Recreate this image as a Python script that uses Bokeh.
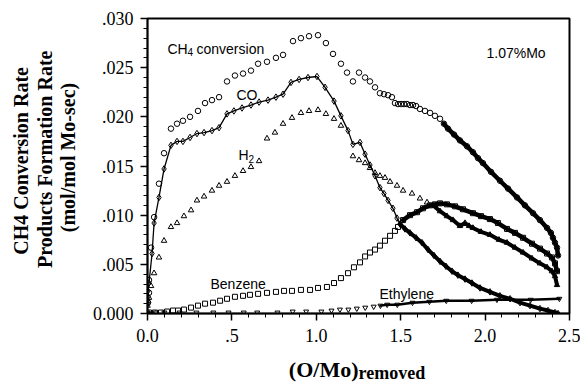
import numpy as np
from bokeh.plotting import figure
from bokeh.layouts import row, column
from bokeh.models import Range1d, FixedTicker, CustomJSTickFormatter, Label
from bokeh.core.properties import value
from bokeh.embed import file_html
from bokeh.resources import INLINE

# ---- data: (O/Mo) removed vs. rate (mol/mol Mo-sec) ----
ch4_x = [0.003, 0.009, 0.009, 0.021, 0.039, 0.068, 0.098, 0.139, 0.175, 0.210, 0.252, 0.299,
         0.341, 0.382, 0.424, 0.471, 0.518, 0.566, 0.613, 0.655, 0.708, 0.761, 0.803, 0.862,
         0.909, 0.957, 1.010, 1.057, 1.099, 1.146, 1.182, 1.217, 1.253, 1.289, 1.318, 1.348,
         1.377, 1.401, 1.425, 1.448, 1.466, 1.484, 1.502, 1.520, 1.537, 1.555, 1.573, 1.591,
         1.614, 1.644, 1.674, 1.703, 1.733, 1.756, 1.780, 1.816, 1.851, 1.893, 1.928, 1.958,
         1.987, 2.035, 2.088, 2.136, 2.189, 2.236, 2.284, 2.325, 2.367, 2.390, 2.402, 2.414,
         2.426, 2.432]
ch4_y = [0.0011, 0.0021, 0.0034, 0.0067, 0.0098, 0.0132, 0.0163, 0.0188, 0.0193, 0.0196, 0.0200, 0.0206,
         0.0214, 0.0217, 0.0220, 0.0236, 0.0242, 0.0244, 0.0247, 0.0254, 0.0256, 0.0260, 0.0263, 0.0277,
         0.0280, 0.0282, 0.0283, 0.0275, 0.0264, 0.0254, 0.0245, 0.0236, 0.0245, 0.0240, 0.0236, 0.0230,
         0.0224, 0.0223, 0.0222, 0.0220, 0.0214, 0.0213, 0.0213, 0.0213, 0.0213, 0.0212, 0.0212, 0.0211,
         0.0208, 0.0206, 0.0204, 0.0201, 0.0198, 0.0193, 0.0188, 0.0182, 0.0176, 0.0170, 0.0164, 0.0158,
         0.0153, 0.0144, 0.0135, 0.0127, 0.0118, 0.0110, 0.0102, 0.0095, 0.0087, 0.0082, 0.0077, 0.0072,
         0.0067, 0.0059]

co_x = [0.000, 0.003, 0.003, 0.009, 0.027, 0.039, 0.068, 0.098, 0.139, 0.175, 0.210, 0.252,
        0.293, 0.335, 0.382, 0.424, 0.471, 0.512, 0.560, 0.613, 0.661, 0.714, 0.761, 0.803,
        0.850, 0.898, 0.951, 1.004, 1.052, 1.105, 1.146, 1.188, 1.217, 1.259, 1.289, 1.318,
        1.348, 1.377, 1.401, 1.425, 1.454, 1.478, 1.496, 1.525, 1.555, 1.591, 1.626, 1.662,
        1.697, 1.733, 1.768, 1.804, 1.839, 1.881, 1.922, 1.970, 2.029, 2.088, 2.148, 2.207,
        2.266, 2.325, 2.373, 2.414, 2.432]
co_y = [0.0010, 0.0017, 0.0023, 0.0031, 0.0061, 0.0092, 0.0118, 0.0147, 0.0171, 0.0175, 0.0175, 0.0179,
        0.0183, 0.0184, 0.0186, 0.0189, 0.0203, 0.0206, 0.0209, 0.0212, 0.0215, 0.0217, 0.0220, 0.0223,
        0.0235, 0.0238, 0.0240, 0.0241, 0.0230, 0.0216, 0.0201, 0.0186, 0.0172, 0.0174, 0.0162, 0.0151,
        0.0140, 0.0128, 0.0122, 0.0115, 0.0107, 0.0097, 0.0091, 0.0086, 0.0082, 0.0077, 0.0072, 0.0065,
        0.0059, 0.0053, 0.0048, 0.0043, 0.0039, 0.0035, 0.0031, 0.0026, 0.0022, 0.0018, 0.0015, 0.0011,
        0.0008, 0.0005, 0.0003, 0.0001, 0.0000]

h2_x = [0.000, 0.003, 0.009, 0.021, 0.039, 0.068, 0.098, 0.139, 0.175, 0.216, 0.258, 0.293,
        0.335, 0.382, 0.424, 0.471, 0.518, 0.566, 0.613, 0.661, 0.708, 0.755, 0.803, 0.856,
        0.909, 0.957, 1.010, 1.057, 1.105, 1.146, 1.217, 1.253, 1.289, 1.318, 1.348, 1.377,
        1.407, 1.437, 1.478, 1.514, 1.567, 1.614, 1.656, 1.691, 1.733, 1.774, 1.810, 1.851,
        1.881, 1.905, 1.928, 1.976, 2.029, 2.082, 2.130, 2.177, 2.225, 2.278, 2.325, 2.367,
        2.396, 2.414, 2.426]
h2_y = [0.0008, 0.0013, 0.0016, 0.0028, 0.0041, 0.0057, 0.0074, 0.0088, 0.0092, 0.0099, 0.0105, 0.0115,
        0.0119, 0.0125, 0.0130, 0.0134, 0.0140, 0.0145, 0.0149, 0.0155, 0.0178, 0.0184, 0.0193, 0.0199,
        0.0204, 0.0206, 0.0207, 0.0203, 0.0198, 0.0191, 0.0160, 0.0156, 0.0153, 0.0148, 0.0143, 0.0140,
        0.0138, 0.0134, 0.0130, 0.0125, 0.0122, 0.0117, 0.0113, 0.0110, 0.0104, 0.0099, 0.0095, 0.0089,
        0.0092, 0.0089, 0.0087, 0.0083, 0.0080, 0.0075, 0.0072, 0.0067, 0.0062, 0.0056, 0.0051, 0.0047,
        0.0043, 0.0038, 0.0029]

benz_x = [0.000, 0.009, 0.044, 0.080, 0.116, 0.151, 0.181, 0.216, 0.258, 0.299, 0.341, 0.388,
          0.430, 0.471, 0.518, 0.566, 0.607, 0.655, 0.708, 0.761, 0.809, 0.856, 0.909, 0.963,
          1.010, 1.063, 1.105, 1.146, 1.188, 1.223, 1.259, 1.289, 1.318, 1.348, 1.377, 1.407,
          1.437, 1.466, 1.484, 1.514, 1.555, 1.597, 1.632, 1.674, 1.703, 1.733, 1.774, 1.822,
          1.869, 1.928, 1.976, 2.029, 2.076, 2.130, 2.177, 2.225, 2.278, 2.325, 2.367, 2.396,
          2.414, 2.426]
benz_y = [0.0000, 0.0001, 0.0001, 0.0001, 0.0002, 0.0003, 0.0003, 0.0004, 0.0006, 0.0008, 0.0010, 0.0011,
          0.0013, 0.0015, 0.0017, 0.0018, 0.0019, 0.0020, 0.0021, 0.0022, 0.0023, 0.0023, 0.0024, 0.0024,
          0.0026, 0.0027, 0.0031, 0.0036, 0.0041, 0.0047, 0.0052, 0.0058, 0.0062, 0.0065, 0.0069, 0.0074,
          0.0079, 0.0084, 0.0088, 0.0095, 0.0100, 0.0103, 0.0107, 0.0110, 0.0111, 0.0112, 0.0111, 0.0109,
          0.0106, 0.0102, 0.0099, 0.0096, 0.0092, 0.0086, 0.0082, 0.0077, 0.0071, 0.0066, 0.0061, 0.0057,
          0.0051, 0.0043]

eth_x = [0.000, 0.020, 0.050, 0.100, 0.190, 0.290, 0.390, 0.480, 0.570, 0.650, 0.770, 0.860,
         0.940, 1.030, 1.090, 1.140, 1.190, 1.240, 1.290, 1.340, 1.380, 1.420, 1.480, 1.570,
         1.670, 1.770, 1.920, 2.070, 2.270, 2.440]
eth_y = [0.0000, 0.0000, 0.0001, 0.0001, 0.0001, 0.0001, 0.0001, 0.0001, 0.0001, 0.0001, 0.0001, 0.0002,
         0.0002, 0.0002, 0.0003, 0.0004, 0.0004, 0.0005, 0.0006, 0.0007, 0.0008, 0.0009, 0.0009, 0.0011,
         0.0012, 0.0013, 0.0013, 0.0014, 0.0014, 0.0015]

x_ticks = [0.0, 0.5, 1.0, 1.5, 2.0, 2.5]
y_ticks = [0.000, 0.005, 0.010, 0.015, 0.020, 0.025, 0.030]

# ---- page geometry (pixels) ----
W, H = 580, 383
YLAB_W = 80          # strip on the left holding the y title
XLAB_H = 35          # strip along the bottom holding the x title
FL, FR, FT, FB = 147, 11, 18, 70   # frame offsets within the whole page

serif = "Liberation Serif"
sans = "Liberation Sans"

# ---- main plot ----
p = figure(width=W - YLAB_W, height=H - XLAB_H, x_range=Range1d(0, 2.5), y_range=Range1d(0, 0.030),
           output_backend="svg", toolbar_location=None, title=None,
           min_border_left=FL - YLAB_W, min_border_right=FR, min_border_top=FT,
           min_border_bottom=FB - XLAB_H)
p.grid.visible = False
p.background_fill_color = "white"
p.border_fill_color = "white"
p.outline_line_color = "black"
p.outline_line_width = 2

p.xaxis.ticker = FixedTicker(ticks=x_ticks, minor_ticks=[i / 10 for i in range(26)])
p.yaxis.ticker = FixedTicker(ticks=y_ticks, minor_ticks=[i / 1000 for i in range(31)])
p.xaxis.formatter = CustomJSTickFormatter(code="""
    var s = tick.toFixed(1);
    if (s == "0.5") { s = ".5"; }
    return s;
""")
p.yaxis.formatter = CustomJSTickFormatter(code="""
    var s = tick.toFixed(3);
    if (tick > 0.0001) { s = s.substring(1); }
    return s;
""")
for ax in (p.xaxis[0], p.yaxis[0]):
    ax.axis_line_width = 1.5
    ax.axis_line_color = "black"
    ax.major_tick_in = 0
    ax.major_tick_out = 7
    ax.minor_tick_in = 0
    ax.minor_tick_out = 4
    ax.major_tick_line_width = 1.5
    ax.minor_tick_line_width = 1
    ax.major_tick_line_color = "black"
    ax.minor_tick_line_color = "black"
    ax.major_label_text_font = serif
    ax.major_label_text_font_size = "18px"
    ax.major_label_text_color = "black"
p.yaxis.major_label_standoff = 7
p.xaxis.major_label_standoff = 8

# ---- series ----
def dense_part(xs, ys, start):
    xs = np.asarray(xs); ys = np.asarray(ys)
    m = xs >= start
    return xs[m], ys[m]

# CO: solid line through the diamonds
p.line(co_x, co_y, line_color="black", line_width=1.3)

# (x, y, marker, size, where points pile up into a solid band, band width)
series = [
    (ch4_x, ch4_y, "circle", 5.5, 1.75, 4.5),
    (co_x, co_y, "diamond", 6.5, 1.49, 4.0),
    (h2_x, h2_y, "triangle", 5.5, 1.69, 4.0),
    (benz_x, benz_y, "square", 5.0, 1.50, 4.5),
    (eth_x, eth_y, "inverted_triangle", 5.0, 1.38, 2.5),
]
for xs, ys, mk, sz, dstart, lw in series:
    dx, dy = dense_part(xs, ys, dstart)
    p.line(dx, dy, line_color="black", line_width=lw, line_join="round", line_cap="round")
    p.scatter(xs, ys, marker=mk, size=sz, fill_color=None, line_color="black", line_width=1)

# ---- in-plot annotations (page pixels -> frame-relative screen units) ----
def lab(cx, cy, text, size):
    p.add_layout(Label(x=cx - FL, y=(H - FB) - cy, x_units="screen", y_units="screen",
                       text=text, text_font=sans, text_font_size=f"{size}px",
                       text_align="left", text_baseline="alphabetic", text_color="black"))

lab(167, 48, "CH", 14)
lab(187, 51, "4", 10)
lab(196, 48, "conversion", 14)
lab(236, 94, "CO", 14)
lab(238, 154, "H", 14)
lab(248, 158, "2", 10)
lab(210, 283, "Benzene", 14)
lab(379, 293, "Ethylene", 14)
lab(486, 52, "1.07%Mo", 14)

# ---- y title strip: coordinates are page pixels ----
yf = figure(width=YLAB_W, height=H - XLAB_H, x_range=Range1d(0, YLAB_W), y_range=Range1d(H - XLAB_H, 0),
            output_backend="svg", toolbar_location=None, x_axis_type=None, y_axis_type=None,
            title=None, min_border=0, outline_line_color=None)
yf.grid.visible = False
yf.text(x=[20, 44, 67], y=[168, 166, 164],
        text=["CH4 Conversion Rate", "Products Formation Rate", "(mol/mol Mo-sec)"],
        text_font=value(serif), text_font_size=value("20px"), text_font_style="bold",
        text_align="center", text_baseline="middle", angle=np.pi / 2, text_color="black")

# ---- x title strip (full width): coordinates are page pixels ----
xf = figure(width=W, height=XLAB_H, x_range=Range1d(0, W), y_range=Range1d(H, H - XLAB_H),
            output_backend="svg", toolbar_location=None, x_axis_type=None, y_axis_type=None,
            title=None, min_border=0, outline_line_color=None)
xf.grid.visible = False
xf.text(x=[358], y=[369], text=["(O/Mo)"], text_font=value(serif), text_font_size=value("22px"),
        text_font_style="bold", text_align="right", text_baseline="alphabetic", text_color="black")
xf.text(x=[358], y=[372], text=["removed"], text_font=value(serif), text_font_size=value("18px"),
        text_font_style="bold", text_align="left", text_baseline="alphabetic", text_color="black")

layout = column(row(yf, p, spacing=0), xf, spacing=0)
open("out.html", "w").write(file_html(layout, INLINE))
